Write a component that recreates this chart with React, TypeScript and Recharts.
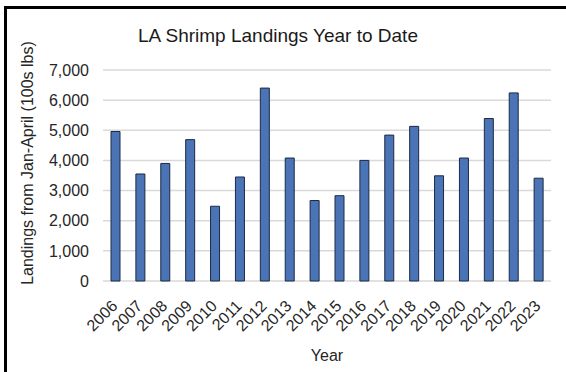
import React from 'react'
import { BarChart, Bar, XAxis, YAxis, CartesianGrid } from 'recharts'

const years = [
    '2006', '2007', '2008', '2009', '2010', '2011', '2012', '2013', '2014',
    '2015', '2016', '2017', '2018', '2019', '2020', '2021', '2022', '2023',
]
// landings Jan-April, in 100s of lbs
const landings = [
    4960, 3550, 3900, 4690, 2480, 3450, 6400, 4080, 2670,
    2830, 4000, 4840, 5130, 3490, 4080, 5390, 6240, 3410,
]
const yTicks = [0, 1000, 2000, 3000, 4000, 5000, 6000, 7000]

const title = 'LA Shrimp Landings Year to Date'
const yTitle = 'Landings from Jan-April (100s lbs)'
const xTitle = 'Year'

const FONT = '"Liberation Sans", Arial, sans-serif'

const YearTick = (props: any) => {
    const { x, y, payload } = props
    return (
        <text
            x={x + 3}
            y={y + 18}
            transform={`rotate(-45, ${x + 3}, ${y + 18})`}
            textAnchor="end"
            fontSize={16}
            fontFamily={FONT}
            fill="#262626"
        >
            {payload.value}
        </text>
    )
}

const YTitle = () => (
    <text
        x={27}
        y={163}
        transform="rotate(-90, 27, 163)"
        textAnchor="middle"
        dominantBaseline="central"
        fontSize={16}
        fontFamily={FONT}
        fill="#262626"
    >
        {yTitle}
    </text>
)

const XTitle = (props: any) => {
    const vb = props.viewBox || {}
    const cx = (vb.x ?? 103) + (vb.width ?? 448) / 2
    return (
        <text x={cx} y={361} textAnchor="middle" fontSize={16} fontFamily={FONT} fill="#262626">
            {xTitle}
        </text>
    )
}

export default function App() {
    const data = years.map((year, i) => ({ year, value: landings[i] }))

    return (
        <div style={{ position: 'absolute', left: 0, top: 0, width: 566, height: 372, background: '#fff', overflow: 'hidden' }}>
            <div
                style={{
                    position: 'absolute',
                    left: 4,
                    top: 6,
                    right: 0,
                    bottom: 0,
                    borderTop: '3px solid #000',
                    borderLeft: '3px solid #000',
                }}
            />
            <div
                style={{
                    position: 'absolute',
                    left: 0,
                    width: 556,
                    top: 25,
                    textAlign: 'center',
                    fontFamily: FONT,
                    fontSize: 19,
                    color: '#1a1a1a',
                    lineHeight: '22px',
                }}
            >
                {title}
            </div>
            <div style={{ position: 'absolute', left: 0, top: 0 }}>
                <BarChart
                    width={566}
                    height={372}
                    data={data}
                    margin={{ top: 70, right: 15, left: 0, bottom: 0 }}
                >
                    <CartesianGrid vertical={false} stroke="#d9d9d9" strokeWidth={1.5} />
                    <XAxis
                        dataKey="year"
                        height={91}
                        axisLine={false}
                        tickLine={false}
                        interval={0}
                        tick={<YearTick />}
                        label={<XTitle />}
                    />
                    <YAxis
                        width={103}
                        domain={[0, 7000]}
                        ticks={yTicks}
                        axisLine={false}
                        tickLine={false}
                        tickMargin={8}
                        tickFormatter={(v: number) => v.toLocaleString('en-US')}
                        tick={{ fontSize: 16, fontFamily: FONT, fill: '#262626' }}
                        label={<YTitle />}
                    />
                    <Bar
                        dataKey="value"
                        fill="#4a74b5"
                        stroke="#1c2a44"
                        strokeWidth={1}
                        barSize={9}
                        isAnimationActive={false}
                    />
                </BarChart>
            </div>
        </div>
    )
}
